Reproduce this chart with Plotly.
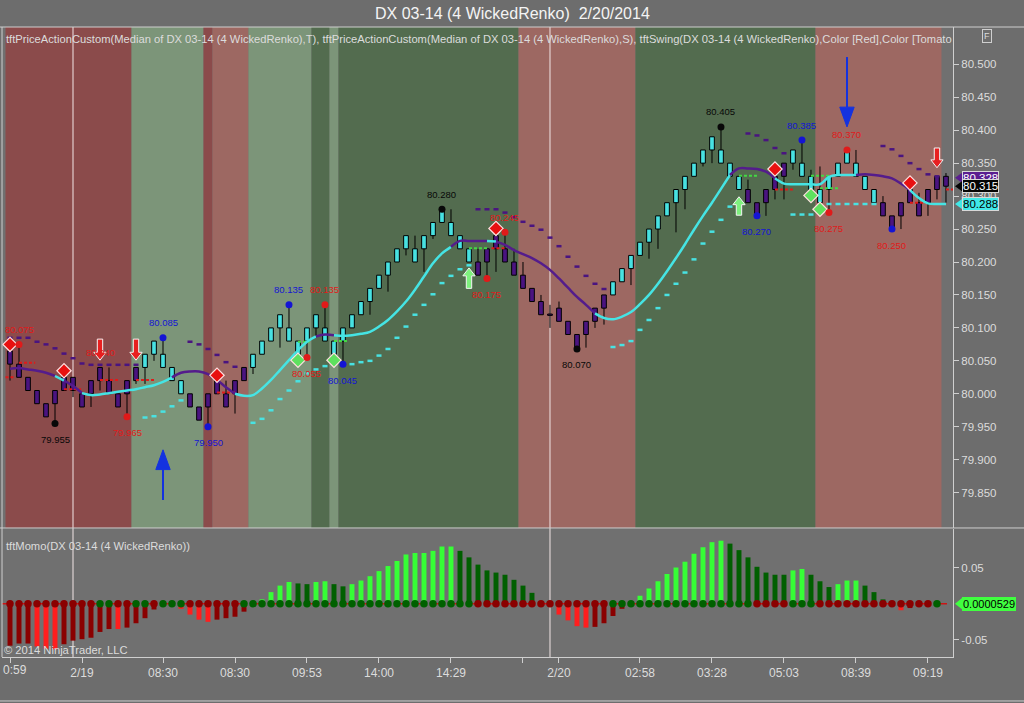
import plotly.graph_objects as go

# ---------------- price bars: DX 03-14 (4 WickedRenko) ----------------
bars = list(range(105))

opens = [80.065, 80.045, 80.025, 80.005, 79.985, 80.005, 80.025, 80.025, 80.000, 80.020,
         80.040, 80.020, 80.000, 80.020, 80.040, 80.040, 80.060, 80.040, 80.020, 80.000,
         80.000, 79.980, 80.000, 80.020, 80.000, 80.020, 80.040, 80.040, 80.060, 80.080,
         80.100, 80.080, 80.060, 80.080, 80.100, 80.080, 80.060, 80.080, 80.100, 80.120,
         80.140, 80.160, 80.180, 80.200, 80.220, 80.200, 80.220, 80.240, 80.260, 80.240,
         80.220, 80.200, 80.200, 80.220, 80.240, 80.220, 80.200, 80.180, 80.160, 80.140,
         80.121, 80.130, 80.110, 80.090, 80.110, 80.130, 80.150, 80.150, 80.170, 80.190,
         80.210, 80.230, 80.250, 80.270, 80.290, 80.310, 80.330, 80.350, 80.370, 80.350,
         80.330, 80.310, 80.310, 80.290, 80.310, 80.330, 80.350, 80.350, 80.330, 80.310,
         80.290, 80.310, 80.330, 80.350, 80.330, 80.310, 80.290, 80.290, 80.270, 80.290,
         80.310, 80.290, 80.310, 80.330, 80.330]
highs = [80.070, 80.075, 80.025, 80.005, 79.985, 80.005, 80.030, 80.025, 80.000, 80.020,
         80.040, 80.040, 80.000, 80.020, 80.040, 80.060, 80.080, 80.085, 80.040, 80.020,
         80.000, 79.980, 80.000, 80.020, 80.020, 80.020, 80.040, 80.060, 80.080, 80.100,
         80.120, 80.135, 80.080, 80.100, 80.120, 80.135, 80.080, 80.100, 80.120, 80.140,
         80.160, 80.180, 80.200, 80.220, 80.240, 80.240, 80.240, 80.260, 80.280, 80.280,
         80.240, 80.220, 80.220, 80.220, 80.240, 80.245, 80.220, 80.200, 80.160, 80.150,
         80.135, 80.140, 80.110, 80.090, 80.110, 80.130, 80.150, 80.170, 80.190, 80.210,
         80.230, 80.250, 80.270, 80.290, 80.310, 80.330, 80.350, 80.370, 80.390, 80.405,
         80.350, 80.330, 80.325, 80.290, 80.310, 80.330, 80.350, 80.370, 80.385, 80.340,
         80.345, 80.330, 80.350, 80.370, 80.370, 80.330, 80.310, 80.300, 80.270, 80.290,
         80.310, 80.305, 80.310, 80.330, 80.335]
lows = [80.020, 80.025, 80.005, 79.985, 79.965, 79.955, 80.005, 79.995, 79.980, 79.980,
        80.005, 80.000, 79.980, 79.965, 80.015, 80.015, 80.050, 80.040, 80.020, 80.000,
        79.980, 79.960, 79.950, 80.000, 79.980, 79.970, 80.020, 80.030, 80.060, 80.080,
        80.070, 80.080, 80.060, 80.055, 80.085, 80.080, 80.060, 80.045, 80.100, 80.120,
        80.120, 80.160, 80.155, 80.200, 80.210, 80.200, 80.185, 80.235, 80.260, 80.240,
        80.220, 80.200, 80.180, 80.175, 80.185, 80.200, 80.180, 80.160, 80.140, 80.120,
        80.100, 80.110, 80.090, 80.068, 80.070, 80.100, 80.105, 80.150, 80.170, 80.165,
        80.210, 80.205, 80.220, 80.270, 80.245, 80.280, 80.330, 80.345, 80.350, 80.350,
        80.330, 80.310, 80.290, 80.270, 80.270, 80.295, 80.295, 80.340, 80.330, 80.310,
        80.290, 80.275, 80.330, 80.350, 80.330, 80.310, 80.290, 80.270, 80.250, 80.250,
        80.290, 80.270, 80.270, 80.295, 80.290]
closes = [80.045, 80.025, 80.005, 79.985, 79.965, 79.985, 80.005, 80.005, 79.980, 80.000,
          80.020, 80.000, 79.980, 80.000, 80.020, 80.060, 80.080, 80.060, 80.040, 80.020,
          79.980, 79.960, 79.980, 80.000, 79.980, 80.000, 80.020, 80.060, 80.080, 80.100,
          80.120, 80.100, 80.080, 80.100, 80.120, 80.100, 80.080, 80.100, 80.120, 80.140,
          80.160, 80.180, 80.200, 80.220, 80.240, 80.220, 80.240, 80.260, 80.280, 80.260,
          80.240, 80.220, 80.180, 80.200, 80.220, 80.200, 80.180, 80.160, 80.140, 80.120,
          80.119, 80.110, 80.090, 80.070, 80.090, 80.110, 80.130, 80.170, 80.190, 80.210,
          80.230, 80.250, 80.270, 80.290, 80.310, 80.330, 80.350, 80.370, 80.390, 80.370,
          80.350, 80.330, 80.290, 80.270, 80.290, 80.310, 80.330, 80.370, 80.350, 80.330,
          80.310, 80.330, 80.350, 80.370, 80.350, 80.330, 80.310, 80.270, 80.250, 80.270,
          80.290, 80.270, 80.290, 80.310, 80.315]

# smoothed median line, colour per segment ending at that bar (u = cyan, d = purple)
ma_line = [80.038, 80.039, 80.037, 80.035, 80.032, 80.027, 80.020, 80.012, 80.001, 79.998,
           79.999, 80.001, 80.003, 80.005, 80.007, 80.010, 80.013, 80.018, 80.025, 80.032,
           80.034, 80.034, 80.030, 80.021, 80.010, 80.000, 79.997, 79.998, 80.008, 80.021,
           80.036, 80.051, 80.066, 80.079, 80.087, 80.090, 80.089, 80.088, 80.089, 80.091,
           80.094, 80.102, 80.112, 80.125, 80.140, 80.158, 80.178, 80.198, 80.213, 80.223,
           80.232, 80.232, 80.232, 80.232, 80.231, 80.226, 80.218, 80.212, 80.206, 80.198,
           80.188, 80.175, 80.161, 80.147, 80.135, 80.122, 80.115, 80.113, 80.117, 80.124,
           80.136, 80.150, 80.167, 80.186, 80.206, 80.227, 80.249, 80.270, 80.290, 80.311,
           80.332, 80.342, 80.342, 80.341, 80.337, 80.327, 80.319, 80.318, 80.318, 80.318,
           80.318, 80.329, 80.332, 80.332, 80.332, 80.333, 80.332, 80.330, 80.327, 80.319,
           80.309, 80.297, 80.289, 80.288, 80.288]
ma_dir = list("dddddd" "u" "dd" "uuuuuuuuuu" "ddddddd" "uuuuuuuuu" "dd"
              "uuuuuuuuuuuuu" "dddd" "u" "ddddddddddd" "uuuuuuuuuuuuuuu"
              "ddddd" "uuuuuuuuu" "dddddd" "uuuu")

# trailing stop dashes
stop_hi_bars = [0, 1, 2, 3, 4, 5, 6, 7, 8, 9, 10, 11, 12, 13, 14,
                20, 21, 22, 23, 24, 25,
                52, 53, 54, 55, 56, 57, 58, 59, 60, 61, 62, 63, 64, 65, 66,
                82, 83, 84, 85, 86,
                97, 98, 99, 100, 101, 102, 103]
stop_hi_vals = [80.085, 80.085, 80.085, 80.079, 80.075, 80.069, 80.061, 80.054, 80.046, 80.044,
                80.044, 80.044, 80.044, 80.044, 80.044,
                80.079, 80.075, 80.068, 80.059, 80.048, 80.041,
                80.280, 80.280, 80.280, 80.275, 80.268, 80.261, 80.255, 80.249, 80.237, 80.224,
                80.208, 80.193, 80.179, 80.167, 80.159,
                80.395, 80.392, 80.385, 80.373, 80.365,
                80.376, 80.371, 80.361, 80.350, 80.341, 80.333, 80.330]
stop_lo_bars = [15, 16, 17, 18, 19,
                27, 28, 29, 30, 31, 32, 33, 34, 35, 36, 37, 38, 39, 40, 41, 42, 43, 44, 45,
                46, 47, 48, 49, 50, 51,
                67, 68, 69, 70, 71, 72, 73, 74, 75, 76, 77, 78, 79, 80,
                87, 88, 89, 90, 91, 92, 93, 94, 95, 96]
stop_lo_vals = [79.964, 79.966, 79.973, 79.981, 79.990,
                79.956, 79.962, 79.975, 79.992, 80.005, 80.019, 80.031, 80.037, 80.042, 80.045,
                80.045, 80.045, 80.048, 80.050, 80.058, 80.068, 80.085, 80.102, 80.120,
                80.135, 80.151, 80.168, 80.179, 80.189, 80.195,
                80.071, 80.074, 80.080, 80.097, 80.112, 80.130, 80.150, 80.167, 80.184, 80.204,
                80.228, 80.246, 80.264, 80.284,
                80.272, 80.272, 80.272, 80.275, 80.288, 80.288, 80.288, 80.288, 80.288, 80.288]

# short price-action levels (start bar, end bar, price, colour)
lvl_x0 = [-0.5, 1, 6, 10, 14, 23, 53.5, 85, 100, 104, 32, 36, 51, 81, 89, 90]
lvl_x1 = [0.5, 2.8, 7.9, 12, 16, 25, 55, 87, 101.5, 104.8, 33.3, 37.5, 53, 83, 91, 92]
lvl_px = [80.025, 80.047, 80.007, 80.021, 80.021, 80.002, 80.221, 80.310, 80.290, 80.310,
          80.079, 80.080, 80.221, 80.331, 80.331, 80.312]
lvl_col = ["r", "r", "r", "r", "r", "r", "r", "r", "r", "r", "g", "g", "g", "g", "g", "g"]

# background trend bands (first bar of each band)
band_start = [0, 14, 22, 23, 27, 34, 36, 37, 57, 70, 90]
band_kind = ["dn", "up_lt", "dn", "dn_lt", "up_lt", "up", "up_lt", "up", "dn_lt", "up", "dn_lt"]
band_end = 104

# swing points
swing_bar = [1, 5, 10, 13, 17, 22, 31, 33, 35, 37, 48, 53, 55, 63, 79, 83, 88, 91, 93, 98]
swing_px = [80.075, 79.955, 80.040, 79.965, 80.085, 79.950, 80.135, 80.055, 80.135, 80.045,
            80.280, 80.175, 80.245, 80.068, 80.405, 80.270, 80.385, 80.275, 80.370, 80.250]
swing_txt = ["80.075", "79.955", "80.040", "79.965", "80.085", "79.950", "80.135", "80.055",
             "80.135", "80.045", "80.280", "80.175", "80.245", "80.070", "80.405", "80.270",
             "80.385", "80.275", "80.370", "80.250"]
swing_dot = ["r", "k", "n", "r", "b", "b", "b", "r", "r", "b", "k", "r", "r", "k", "k", "b", "b", "r", "r", "b"]
swing_lab = ["r", "k", "r", "r", "b", "b", "b", "r", "r", "b", "k", "r", "r", "k", "k", "b", "b", "r", "r", "r"]
swing_side = ["hi", "lo", "hi", "lo", "hi", "lo", "hi", "lo", "hi", "lo",
              "hi", "lo", "hi", "lo", "hi", "lo", "hi", "lo", "hi", "lo"]

# diamonds
dia_bar = [0, 6, 23, 54, 85, 100, 32, 36, 89, 90]
dia_px = [80.075, 80.035, 80.028, 80.251, 80.341, 80.320, 80.051, 80.051, 80.301, 80.280]
dia_col = ["r", "r", "r", "r", "r", "r", "g", "g", "g", "g"]

# signal block arrows (bar, tip price, tail price, colour)
sig_bar = [10, 14, 103, 51, 81]
sig_tip = [80.051, 80.051, 80.343, 80.191, 80.299]
sig_tail = [80.083, 80.083, 80.373, 80.160, 80.271]
sig_col = ["r", "r", "r", "g", "g"]

# big blue arrows
blue_bar = [17, 93]
blue_tip = [79.915, 80.405]
blue_tail = [79.839, 80.511]

# ---------------- tftMomo ----------------
momo_bars = list(range(104))
momo = [-0.058, -0.055, -0.055, -0.059, -0.062, -0.063, -0.056, -0.051, -0.049, -0.047,
        -0.039, -0.035, -0.035, -0.033, -0.027, -0.020, -0.008, 0.000, 0.000, -0.007,
        -0.015, -0.022, -0.025, -0.022, -0.020, -0.018, -0.011, 0.000, 0.006, 0.016,
        0.025, 0.030, 0.028, 0.027, 0.030, 0.031, 0.027, 0.024, 0.027, 0.032,
        0.038, 0.045, 0.052, 0.059, 0.068, 0.070, 0.070, 0.073, 0.079, 0.079,
        0.073, 0.064, 0.054, 0.046, 0.043, 0.040, 0.033, 0.025, 0.015, 0.000,
        0.000, -0.015, -0.023, -0.031, -0.033, -0.032, -0.027, -0.017, -0.007, 0.000,
        0.011, 0.021, 0.031, 0.041, 0.050, 0.058, 0.069, 0.078, 0.085, 0.087,
        0.083, 0.074, 0.064, 0.051, 0.043, 0.040, 0.040, 0.046, 0.048, 0.040,
        0.031, 0.023, 0.027, 0.032, 0.032, 0.025, 0.016, 0.006, 0.000, -0.009,
        -0.006, 0.000, 0.000, 0.0000529]
momo_col = list("rrrRRRrrrr" "rrRrrrrggR" "RRRrrrrgGG" "GGggGGggGG"
                "GGGGGGGGGG" "gggggggggg" "gRRRRrrrrg" "GGGGGGGGGG"
                "gggggggGGg" "ggGGGgggrR" "rggG")
dot_col = list("rrrrrrrrrr" "ggrrggrggg" "rrrrrrgggg" "gggggggggg"
               "gggggggggg" "ggrrrrrrrr" "rrrrrrrggg" "gggggggggg"
               "gggrrrrggg" "rrrrrrrrrr" "rrrg")

tick_bars = [0, 8, 17, 25, 33, 41, 49, 57, 61, 70, 78, 86, 94, 102]
tick_text = ["0:59", "2/19", "08:30", "08:30", "09:53", "14:00", "14:29", "",
             "2/20", "02:58", "03:28", "05:03", "08:39", "09:19"]
sep_bars = [7, 60]
price_ticks = [79.85, 79.90, 79.95, 80.00, 80.05, 80.10, 80.15, 80.20,
               80.25, 80.30, 80.35, 80.40, 80.45, 80.50]

# ---------------- styles ----------------
FONT = "Liberation Sans, Arial, sans-serif"
TXT = "#dcdcdc"
AX = "#cfcfcf"
UP = "#48e2e2"
DN = "#4a1480"
MA_COL = {"u": "#45e4e4", "d": "#541c8c"}
BAND_COL = {"dn": "#8b4b4b", "dn_lt": "#9d6862", "up_lt": "#7c9579", "up": "#536c4f"}
SW_COL = {"k": "#080808", "b": "#1414d4", "r": "#e01a1a"}
LVL_COL = {"r": "#e01a1a", "g": "#44d844"}
DIA_COL = {"r": "#e81010", "g": "#5ee05e"}
SIG_COL = {"r": "#e82020", "g": "#7ef07e"}
MOMO_COL = {"R": "#ff1e1e", "r": "#8a0000", "G": "#36ff36", "g": "#005f00"}
DOT_COL = {"r": "#8a0000", "g": "#006000"}
BLUE = "#1432e0"
BG = "#6d6d6d"

fig = go.Figure()

# background bands
for k, start in enumerate(band_start):
    end = band_start[k + 1] if k + 1 < len(band_start) else band_end
    fig.add_shape(type="rect", xref="x", yref="y domain", x0=start - 0.5, x1=end - 0.5,
                  y0=0, y1=1, fillcolor=BAND_COL[band_kind[k]], line_width=0, layer="below")

for b in sep_bars:
    fig.add_shape(type="line", xref="x", yref="paper", x0=b, x1=b, y0=0, y1=1,
                  line=dict(color="#f2e6e6", width=1), layer="below")

fig.add_shape(type="line", xref="paper", yref="y2", x0=0, x1=1, y0=0, y1=0,
              line=dict(color="#cc1414", width=1.5, dash="dash"), layer="below")

# candle bodies and wicks
tops = [max(o, c) for o, c in zip(opens, closes)]
bots = [min(o, c) for o, c in zip(opens, closes)]
fig.add_trace(go.Bar(
    x=bars, y=[max(t - b, 0.0015) for t, b in zip(tops, bots)], base=bots, width=0.52,
    marker=dict(color=[UP if c > o else DN for o, c in zip(opens, closes)],
                line=dict(color="black", width=1)),
    xaxis="x", yaxis="y", hoverinfo="skip"))

wx, wy = [], []
for i in bars:
    if highs[i] > tops[i]:
        wx += [i, i, None]
        wy += [tops[i], highs[i], None]
    if lows[i] < bots[i]:
        wx += [i, i, None]
        wy += [bots[i], lows[i], None]
fig.add_trace(go.Scatter(x=wx, y=wy, mode="lines", line=dict(color="black", width=1),
                         xaxis="x", yaxis="y", hoverinfo="skip"))


def dashes(bar_list, val_list, half=0.28):
    xs, ys = [], []
    for b, v in zip(bar_list, val_list):
        xs += [b - half, b + half, None]
        ys += [v, v, None]
    return xs, ys


hx, hy = dashes(stop_hi_bars, stop_hi_vals)
fig.add_trace(go.Scatter(x=hx, y=hy, mode="lines", line=dict(color=DN, width=2.5),
                         xaxis="x", yaxis="y", hoverinfo="skip"))
lx, ly = dashes(stop_lo_bars, stop_lo_vals)
fig.add_trace(go.Scatter(x=lx, y=ly, mode="lines", line=dict(color=UP, width=2.5),
                         xaxis="x", yaxis="y", hoverinfo="skip"))

for x0, x1, p, c in zip(lvl_x0, lvl_x1, lvl_px, lvl_col):
    fig.add_trace(go.Scatter(x=[x0, x1], y=[p, p], mode="lines",
                             line=dict(color=LVL_COL[c], width=2, dash="3px,2px"),
                             xaxis="x", yaxis="y", hoverinfo="skip"))

# smoothed median line in coloured runs
a = 0
n = len(ma_line)
for b in range(1, n):
    if b == n - 1 or ma_dir[b + 1] != ma_dir[b]:
        fig.add_trace(go.Scatter(x=bars[a:b + 1], y=ma_line[a:b + 1], mode="lines",
                                 line=dict(color=MA_COL[ma_dir[b]], width=2.5, shape="spline"),
                                 xaxis="x", yaxis="y", hoverinfo="skip"))
        a = b

# diamonds
fig.add_trace(go.Scatter(x=dia_bar, y=dia_px, mode="markers",
                         marker=dict(symbol="diamond", size=11,
                                     color=[DIA_COL[c] for c in dia_col],
                                     line=dict(color="#ffe0e0", width=1.2)),
                         xaxis="x", yaxis="y", hoverinfo="skip"))

# swing dots and labels
dot_idx = [k for k, c in enumerate(swing_dot) if c != "n"]
fig.add_trace(go.Scatter(x=[swing_bar[k] for k in dot_idx], y=[swing_px[k] for k in dot_idx],
                         mode="markers",
                         marker=dict(size=7, color=[SW_COL[swing_dot[k]] for k in dot_idx]),
                         xaxis="x", yaxis="y", hoverinfo="skip"))
for b, p, t, c, s in zip(swing_bar, swing_px, swing_txt, swing_lab, swing_side):
    fig.add_annotation(x=b, y=p, xref="x", yref="y", text=t, showarrow=False,
                       yshift=15 if s == "hi" else -16,
                       font=dict(family=FONT, size=9.5, color=SW_COL[c]))

# block signal arrows
for b, tip, tail, c in zip(sig_bar, sig_tip, sig_tail, sig_col):
    d = 1 if tip > tail else -1
    neck = tip - d * 0.012
    ws, wh = 0.3, 0.68
    pts = [(b - ws, tail), (b + ws, tail), (b + ws, neck), (b + wh, neck), (b, tip),
           (b - wh, neck), (b - ws, neck)]
    path = "M " + " L ".join(f"{x},{y}" for x, y in pts) + " Z"
    fig.add_shape(type="path", xref="x", yref="y", path=path, fillcolor=SIG_COL[c],
                  line=dict(color="#f4f4f4", width=1))

# big blue arrows
for b, tip, tail in zip(blue_bar, blue_tip, blue_tail):
    d = 1 if tip > tail else -1
    neck = tip - d * 0.030
    fig.add_shape(type="line", xref="x", yref="y", x0=b, x1=b, y0=tail, y1=neck,
                  line=dict(color=BLUE, width=2))
    path = f"M {b - 0.8},{neck} L {b + 0.8},{neck} L {b},{tip} Z"
    fig.add_shape(type="path", xref="x", yref="y", path=path, fillcolor=BLUE,
                  line=dict(color=BLUE, width=1))

# momentum histogram and zero-line dots
fig.add_trace(go.Bar(x=momo_bars, y=momo, width=0.55,
                     marker=dict(color=[MOMO_COL[c] for c in momo_col], line_width=0),
                     xaxis="x", yaxis="y2", hoverinfo="skip"))
fig.add_trace(go.Scatter(x=momo_bars, y=[0] * len(momo_bars), mode="markers",
                         marker=dict(size=7.5, color=[DOT_COL[c] for c in dot_col]),
                         xaxis="x", yaxis="y2", hoverinfo="skip"))

# right-edge value tags
tags = [("y", 80.328, "80.328", "#5a1e90", "white"),
        ("y", 80.315, "80.315", "#050505", "white"),
        ("y", 80.288, "80.288", "#40e8e8", "black"),
        ("y2", momo[-1], "0.0000529", "#40ff40", "black")]
for yref, v, t, bg, fc in tags:
    h = 0.0080 if yref == "y" else 0.0080
    fig.add_shape(type="path", xref="paper", yref=yref,
                  path=f"M 1.0021,{v} L 1.0098,{v + h} L 1.0098,{v - h} Z",
                  fillcolor=bg, line_width=0)
    fig.add_annotation(x=1.0095, y=v, xref="paper", yref=yref, text=t, showarrow=False,
                       xanchor="left", yanchor="middle", bgcolor=bg, borderpad=0,
                       bordercolor="#d8d8d8" if bg != "#40ff40" else bg, borderwidth=1,
                       font=dict(family=FONT, size=11.5 if yref == "y" else 11, color=fc))

# frame lines
frame = [(-0.01, 1.08, 1.0, 1.0), (-0.01, 1.08, 0.2048, 0.2048), (-0.01, 1.08, -0.0698, -0.0698)]
for x0, x1, y0, y1 in frame:
    fig.add_shape(type="line", xref="paper", yref="paper", x0=x0, x1=x1, y0=y0, y1=y1,
                  line=dict(color=AX, width=1))
fig.add_shape(type="line", xref="paper", yref="paper", x0=0, x1=0, y0=0, y1=1,
              line=dict(color=AX, width=1))

# texts
fig.add_annotation(x=0.5363, y=1.0222, xref="paper", yref="paper", showarrow=False,
                   yanchor="middle", text="DX 03-14 (4 WickedRenko)  2/20/2014",
                   font=dict(family=FONT, size=16, color="#f4f4f4"))
fig.add_annotation(x=0.002, y=0.981, xref="paper", yref="paper", showarrow=False,
                   xanchor="left", yanchor="middle",
                   text="tftPriceActionCustom(Median of DX 03-14 (4 WickedRenko),T), "
                        "tftPriceActionCustom(Median of DX 03-14 (4 WickedRenko),S), "
                        "tftSwing(DX 03-14 (4 WickedRenko),Color [Red],Color [Tomato",
                   font=dict(family=FONT, size=11.2, color=TXT))
fig.add_annotation(x=0.002, y=0.176, xref="paper", yref="paper", showarrow=False,
                   xanchor="left", yanchor="middle", text="tftMomo(DX 03-14 (4 WickedRenko))",
                   font=dict(family=FONT, size=11.2, color=TXT))
fig.add_annotation(x=0.0, y=0.011, xref="paper", yref="paper", showarrow=False,
                   xanchor="left", yanchor="middle", text="© 2014 NinjaTrader, LLC",
                   font=dict(family=FONT, size=11.2, color=TXT))
fig.add_annotation(x=1.041, y=0.9865, xref="paper", yref="paper", showarrow=False,
                   yanchor="middle", text="F", bordercolor=AX, borderwidth=1, borderpad=1,
                   font=dict(family=FONT, size=9, color=TXT))
# first tick label sits at the left edge, so it is placed as a left-anchored text
fig.add_annotation(x=-0.001, y=-0.0206, xref="paper", yref="paper", showarrow=False,
                   xanchor="left", yanchor="middle", text=tick_text[0],
                   font=dict(family=FONT, size=12, color=TXT))

axis_common = dict(showgrid=False, zeroline=False, showline=True, linecolor=AX, linewidth=1,
                   ticks="outside", ticklen=5, tickcolor=AX, automargin=False,
                   tickfont=dict(family=FONT, size=12, color=TXT))

fig.update_layout(
    width=1024, height=703,
    margin=dict(l=2, r=71, t=27, b=46),
    paper_bgcolor=BG, plot_bgcolor="#707070",
    showlegend=False, barmode="overlay",
    font=dict(family=FONT, color=TXT, size=12),
    xaxis=dict(range=[-0.889, 104.78], tickvals=tick_bars,
               ticktext=[""] + tick_text[1:], anchor="y2", **axis_common),
    yaxis=dict(domain=[0.2048, 1], range=[79.7964, 80.5566], side="right", anchor="x",
               tickvals=price_ticks, tickformat=".3f", **axis_common),
    yaxis2=dict(domain=[0, 0.2032], range=[-0.0736, 0.1032], side="right", anchor="x",
                tickvals=[-0.05, 0.05], ticktext=["-0.05", "0.05"], **axis_common),
)
fig.update_yaxes(tickfont_size=11.5)

fig.write_html("out.html", config={"displayModeBar": False},
               post_script=f"document.body.style.margin='0';"
                           f"document.body.style.background='{BG}';")
